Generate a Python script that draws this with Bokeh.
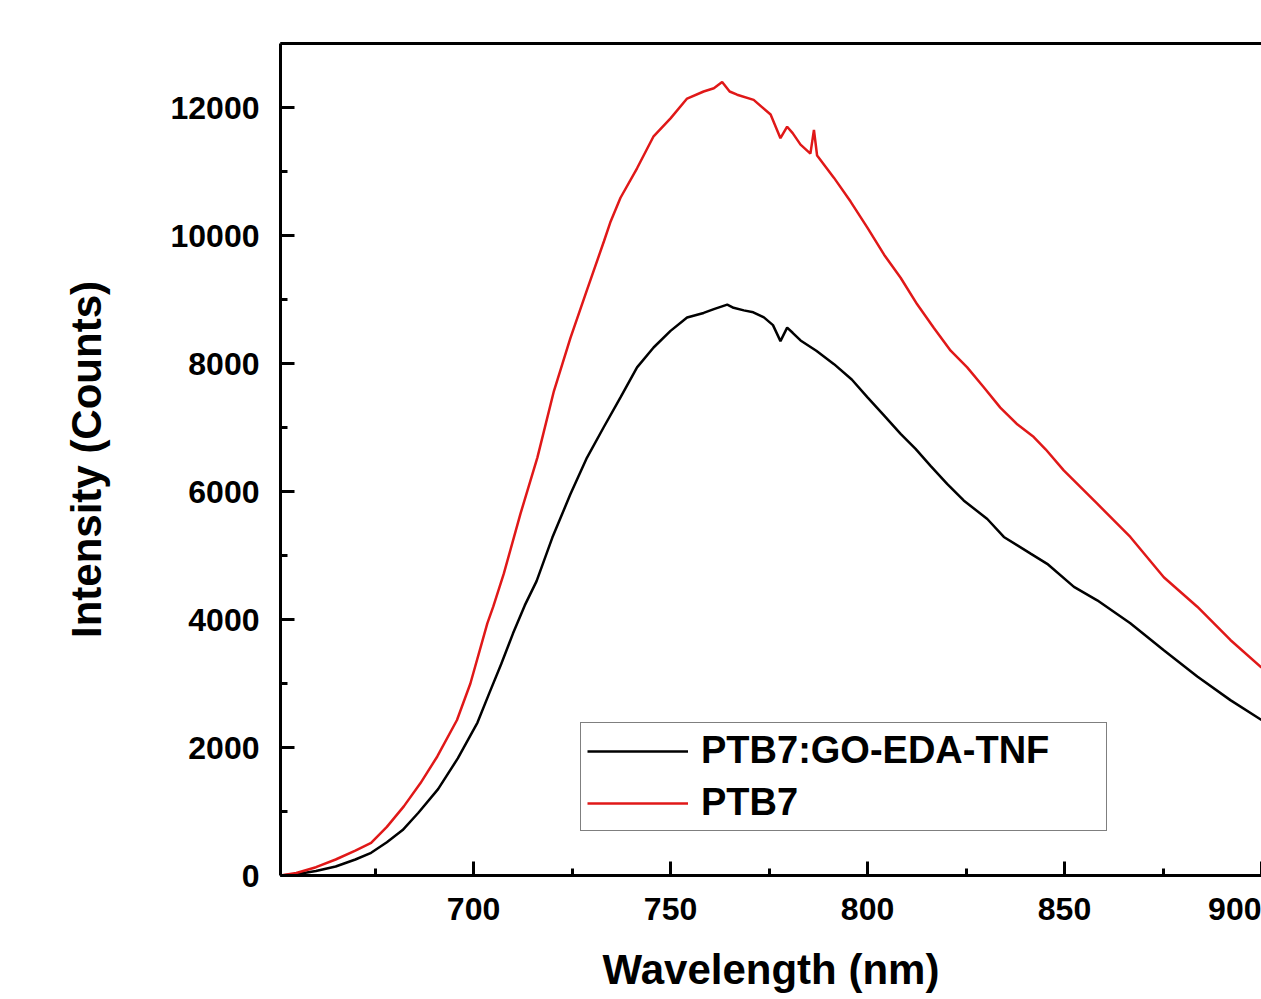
from bokeh.plotting import figure
from bokeh.models import (LinearAxis, SingleIntervalTicker, FixedTicker, Legend,
                          LegendItem, ColumnDataSource)
from bokeh.embed import file_html
from bokeh.resources import INLINE

# ---- data ----
wl_black = [651, 655, 660, 665, 670, 674, 678, 682, 686, 691, 696, 701, 704, 707,
            710, 713, 716, 720, 724.6, 728.8, 733, 737.3, 741.5, 745.7, 750, 754.2,
            758.4, 761, 764.4, 766, 768.6, 771, 773.7, 776, 777.9, 779.6, 781, 783,
            787, 791.5, 796, 800, 804, 808.4, 812.2, 816, 820.2, 824.4, 830.4, 834.6,
            841.4, 845.6, 852.4, 858.3, 866.7, 875.2, 883.7, 892.1, 900]
int_black = [0, 20, 70, 140, 250, 355, 520, 710, 980, 1350, 1830, 2390, 2850, 3300,
             3780, 4220, 4600, 5280, 5960, 6530, 7000, 7470, 7940, 8250, 8510, 8720,
             8790, 8850, 8920, 8870, 8830, 8800, 8720, 8600, 8350, 8560, 8480, 8360,
             8200, 7990, 7750, 7470, 7200, 6900, 6665, 6400, 6120, 5860, 5570, 5290,
             5030, 4870, 4510, 4300, 3940, 3520, 3110, 2740, 2430]

wl_red = [651, 655, 660, 665, 670, 674, 678, 682.3, 686.5, 690.8, 695.8, 699.2, 703.5,
          705, 707.7, 711.9, 716.2, 720.4, 724.6, 728.8, 733.1, 734.8, 737.3, 741.5,
          745.7, 750, 754.2, 758.4, 761, 763.1, 765, 766.9, 771.1, 775.4, 777.9, 779.6,
          781, 783, 785.5, 786.4, 787.2, 791.5, 795.7, 800, 804.2, 808.4, 812.6, 816.8,
          821.1, 825.3, 829.5, 833.7, 838, 842.2, 845.2, 849.8, 858.3, 866.7, 875.2,
          883.7, 892.1, 900]
int_red = [0, 40, 130, 250, 390, 510, 760, 1080, 1440, 1860, 2430, 3000, 3940,
           4200, 4720, 5650, 6530, 7570, 8400, 9150, 9910, 10220, 10590, 11050,
           11550, 11830, 12140, 12250, 12300, 12400, 12250, 12200, 12120, 11890, 11520, 11700,
           11600, 11420, 11280, 11650, 11250, 10900, 10530, 10120, 9700, 9340, 8925, 8560,
           8200, 7940, 7630, 7310, 7050, 6850, 6660, 6330, 5810, 5290, 4660,
           4200, 3680, 3250]

series_names = ["PTB7:GO-EDA-TNF", "PTB7"]
x_label = "Wavelength (nm)"
y_label = "Intensity (Counts)"

FONT = "Liberation Sans"

p = figure(width=1261, height=995, x_range=(651, 900), y_range=(0, 13000),
           output_backend="svg", toolbar_location=None,
           min_border_left=280, min_border_right=0, min_border_top=43,
           min_border_bottom=119, x_axis_location=None, y_axis_location=None)
p.outline_line_color = None
p.grid.visible = False
p.background_fill_color = "white"
p.border_fill_color = "white"

xaxis = LinearAxis(ticker=SingleIntervalTicker(interval=50, num_minor_ticks=2),
                   axis_label=x_label)
yaxis = LinearAxis(ticker=SingleIntervalTicker(interval=2000, num_minor_ticks=2),
                   axis_label=y_label)
for ax in (xaxis, yaxis):
    ax.axis_line_width = 3
    ax.axis_line_color = "black"
    ax.major_tick_line_width = 3
    ax.minor_tick_line_width = 3
    ax.major_tick_in = 14
    ax.major_tick_out = 0
    ax.minor_tick_in = 7
    ax.minor_tick_out = 0
    ax.major_label_text_font = FONT
    ax.major_label_text_font_style = "bold"
    ax.major_label_text_font_size = "32px"
    ax.major_label_text_color = "black"
    ax.axis_label_text_font = FONT
    ax.axis_label_text_font_style = "bold"
    ax.axis_label_text_font_size = "42px"
    ax.axis_label_text_color = "black"
xaxis.major_label_standoff = 22
xaxis.axis_label_standoff = 23
yaxis.major_label_standoff = 21
yaxis.axis_label_standoff = 58
p.add_layout(xaxis, "below")
p.add_layout(yaxis, "left")

top = LinearAxis(ticker=FixedTicker(ticks=[]), axis_line_width=3,
                 major_label_text_font_size="0px")
top.major_tick_line_color = None
top.minor_tick_line_color = None
p.add_layout(top, "above")

src_b = ColumnDataSource(dict(x=wl_black, y=int_black))
src_r = ColumnDataSource(dict(x=wl_red, y=int_red))
rb = p.line("x", "y", source=src_b, line_color="black", line_width=2.5)
rr = p.line("x", "y", source=src_r, line_color="#e01818", line_width=2.5)

legend = Legend(items=[LegendItem(label=series_names[0], renderers=[rb]),
                       LegendItem(label=series_names[1], renderers=[rr])],
                location=(300, 44))
legend.label_text_font = FONT
legend.label_text_font_style = "bold"
legend.label_text_font_size = "38px"
legend.label_text_color = "black"
legend.glyph_width = 101
legend.glyph_height = 30
legend.label_standoff = 13
legend.label_width = 399
legend.padding = 6
legend.spacing = 9
legend.margin = 0
legend.border_line_color = "black"
legend.border_line_width = 1.5
legend.background_fill_color = "white"
legend.background_fill_alpha = 1
p.add_layout(legend, "center")

open("out.html", "w").write(file_html(p, INLINE))
